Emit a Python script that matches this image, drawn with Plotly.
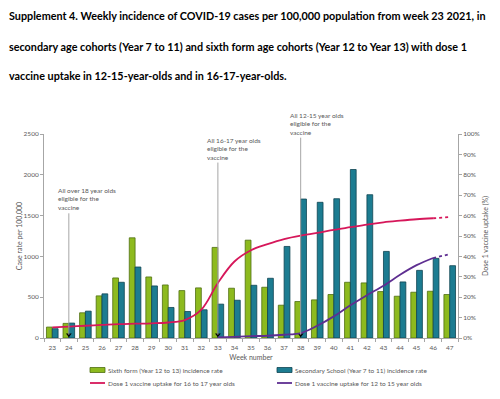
import plotly.graph_objects as go

# ---------------- data ----------------
weeks = list(range(23, 48))
sixth_form = [134, 179, 309, 516, 736, 1228, 748, 650, 581, 614, 1110, 610, 1199,
              622, 402, 447, 467, 533, 683, 675, 569, 512, 561, 573, 533]
secondary = [114, 183, 329, 541, 683, 870, 638, 374, 325, 346, 415, 463, 646,
             732, 1122, 1703, 1663, 1707, 2065, 1756, 1061, 687, 829, 976, 886]

uptake_1617_weeks = list(range(23, 47))
uptake_1617 = [5.2, 5.6, 6.0, 6.4, 6.8, 7.0, 7.2, 7.6, 8.8, 13.9, 27.0, 37.5, 43.0,
               46.0, 48.5, 50.2, 51.5, 53.0, 54.3, 55.6, 56.7, 57.5, 58.2, 58.7]
uptake_1617_proj_weeks = [46, 47]
uptake_1617_proj = [58.7, 59.3]

uptake_1215_weeks = list(range(33, 47))
uptake_1215 = [0.3, 0.6, 0.9, 1.1, 1.6, 2.4, 6.0, 10.6, 16.0, 21.0, 25.6, 31.0, 35.7, 39.2]
uptake_1215_proj_weeks = [46, 47]
uptake_1215_proj = [39.2, 41.1]

event_weeks = [24, 33, 38]
event_labels = ["All over 18 year olds<br>eligible for the<br>vaccine",
                "All 16-17 year olds<br>eligible for the<br>vaccine",
                "All 12-15 year olds<br>eligible for the<br>vaccine"]

left_ticks = [0, 500, 1000, 1500, 2000, 2500]
right_ticks = list(range(0, 101, 10))

title_lines = [
    "Supplement 4. Weekly incidence of COVID-19 cases per 100,000 population from week 23 2021, in",
    "secondary age cohorts (Year 7 to 11) and sixth form age cohorts (Year 12 to Year 13) with dose 1",
    "vaccine uptake in 12-15-year-olds and in 16-17-year-olds.",
]

legend_names = ["Sixth form (Year 12 to 13) incidence rate",
                "Secondary School (Year 7 to 11) incidence rate",
                "Dose 1 vaccine uptake for 16 to 17 year olds",
                "Dose 1 vaccine uptake for 12 to 15 year olds"]

# ---------------- layout constants ----------------
W, H = 500, 399
ML, MR, MT, MB = 44, 42, 134, 61
PLOT_H = H - MT - MB
PLOT_W = W - ML - MR
event_line_tops = [1528, 2150, 2455]   # left-axis units
event_tip = 40
title_px_y = [15, 46, 76]
legend_px = [(90, 370), (277, 370), (90, 383), (277, 383)]   # swatch left, centre y
FONT = "Lato, Carlito, Calibri, sans-serif"
GREY = "#595959"
AXIS = "#A6A6A6"

GREEN, GREEN_EDGE = "#8DBA1E", "#4F6E12"
TEAL, TEAL_EDGE = "#1C7C91", "#0F4452"
RED = "#D6175A"
PURPLE = "#5E2E91"


def px_x(px):
    return (px - ML) / PLOT_W


def px_y(py):
    return (H - MB - py) / PLOT_H


fig = go.Figure()
fig.add_trace(go.Bar(x=weeks, y=sixth_form, name=legend_names[0],
                     marker=dict(color=GREEN, line=dict(color=GREEN_EDGE, width=0.8))))
fig.add_trace(go.Bar(x=weeks, y=secondary, name=legend_names[1],
                     marker=dict(color=TEAL, line=dict(color=TEAL_EDGE, width=0.8))))
fig.add_trace(go.Scatter(x=uptake_1617_weeks, y=uptake_1617, yaxis="y2", mode="lines",
                         name=legend_names[2],
                         line=dict(color=RED, width=1.8, shape="spline")))
fig.add_trace(go.Scatter(x=uptake_1215_weeks, y=uptake_1215, yaxis="y2", mode="lines",
                         name=legend_names[3],
                         line=dict(color=PURPLE, width=1.8, shape="spline")))
fig.add_trace(go.Scatter(x=uptake_1617_proj_weeks, y=uptake_1617_proj, yaxis="y2", mode="lines",
                         line=dict(color=RED, width=1.8, dash="dot")))
fig.add_trace(go.Scatter(x=uptake_1215_proj_weeks, y=uptake_1215_proj, yaxis="y2", mode="lines",
                         line=dict(color=PURPLE, width=1.8, dash="dot")))
fig.add_trace(go.Scatter(x=event_weeks, y=[event_tip] * len(event_weeks), mode="markers",
                         hoverinfo="skip",
                         marker=dict(symbol="triangle-down", size=5, color="black")))

shapes = []
annotations = []
for wk, top, lab in zip(event_weeks, event_line_tops, event_labels):
    shapes.append(dict(type="line", xref="x", yref="y", x0=wk, x1=wk, y0=event_tip, y1=top,
                       line=dict(color=AXIS, width=1), layer="above"))
    annotations.append(dict(x=wk, y=top, xref="x", yref="y", text=lab, showarrow=False,
                            xanchor="left", yanchor="bottom", align="left", xshift=-13, yshift=0,
                            font=dict(size=6.5, color=GREY, family=FONT)))

for line, py in zip(title_lines, title_px_y):
    annotations.append(dict(x=px_x(7), y=px_y(py), xref="paper", yref="paper",
                            text="<b>" + line + "</b>", showarrow=False, xanchor="left", yanchor="middle",
                            font=dict(size=10.8, color="black", family=FONT)))

# manual legend (swatches + labels)
swatch_styles = [("rect", GREEN, GREEN_EDGE), ("rect", TEAL, TEAL_EDGE),
                 ("line", RED, RED), ("line", PURPLE, PURPLE)]
for (sx, sy), (kind, fill, edge), name in zip(legend_px, swatch_styles, legend_names):
    if kind == "rect":
        shapes.append(dict(type="rect", xref="paper", yref="paper",
                           x0=px_x(sx), x1=px_x(sx + 15), y0=px_y(sy + 2.5), y1=px_y(sy - 2.5),
                           fillcolor=fill, line=dict(color=edge, width=0.8)))
    else:
        shapes.append(dict(type="line", xref="paper", yref="paper",
                           x0=px_x(sx), x1=px_x(sx + 15), y0=px_y(sy), y1=px_y(sy),
                           line=dict(color=fill, width=1.8)))
    annotations.append(dict(x=px_x(sx + 16), y=px_y(sy), xref="paper", yref="paper", text=name,
                            showarrow=False, xanchor="left", yanchor="middle",
                            font=dict(size=6.5, color=GREY, family=FONT)))

fig.update_layout(
    width=W, height=H,
    margin=dict(l=ML, r=MR, t=MT, b=MB, autoexpand=False),
    paper_bgcolor="white", plot_bgcolor="white",
    font=dict(family=FONT, color=GREY, size=6.5),
    barmode="group", bargap=0.3, bargroupgap=0.0,
    showlegend=False,
    xaxis=dict(range=[22.5, 47.5], tickmode="array", tickvals=weeks, ticktext=[str(w) for w in weeks],
               ticks="", showline=True, linecolor=AXIS, linewidth=1, showgrid=False, zeroline=False,
               tickfont=dict(size=6.5, color=GREY), automargin=False, ticklabelstandoff=3,
               minor=dict(tickvals=[w + 0.5 for w in [22] + weeks], ticks="outside", ticklen=3,
                          tickcolor=AXIS, showgrid=False),
               title=dict(text="Week number", font=dict(size=7, color=GREY), standoff=5)),
    yaxis=dict(range=[0, 2500], tickvals=left_ticks, ticks="outside", ticklen=3, tickcolor=AXIS,
               showline=True, linecolor=AXIS, linewidth=1, showgrid=False, zeroline=False,
               tickfont=dict(size=6.5, color=GREY), automargin=False,
               title=dict(text="Case rate per 100,000", font=dict(size=7, color=GREY), standoff=0)),
    yaxis2=dict(range=[0, 100], tickvals=right_ticks, ticktext=[f"{v}%" for v in right_ticks],
                overlaying="y", side="right", ticks="outside", ticklen=3, tickcolor=AXIS,
                showline=True, linecolor=AXIS, linewidth=1, showgrid=False, zeroline=False,
                tickfont=dict(size=6.5, color=GREY), automargin=False,
                title=dict(text="Dose 1 vaccine uptake (%)", font=dict(size=7, color=GREY), standoff=4)),
    shapes=shapes,
    annotations=annotations,
)

fig.write_html("out.html", config={"displayModeBar": False},
               post_script="document.body.style.margin='0';document.body.style.overflow='hidden';")
